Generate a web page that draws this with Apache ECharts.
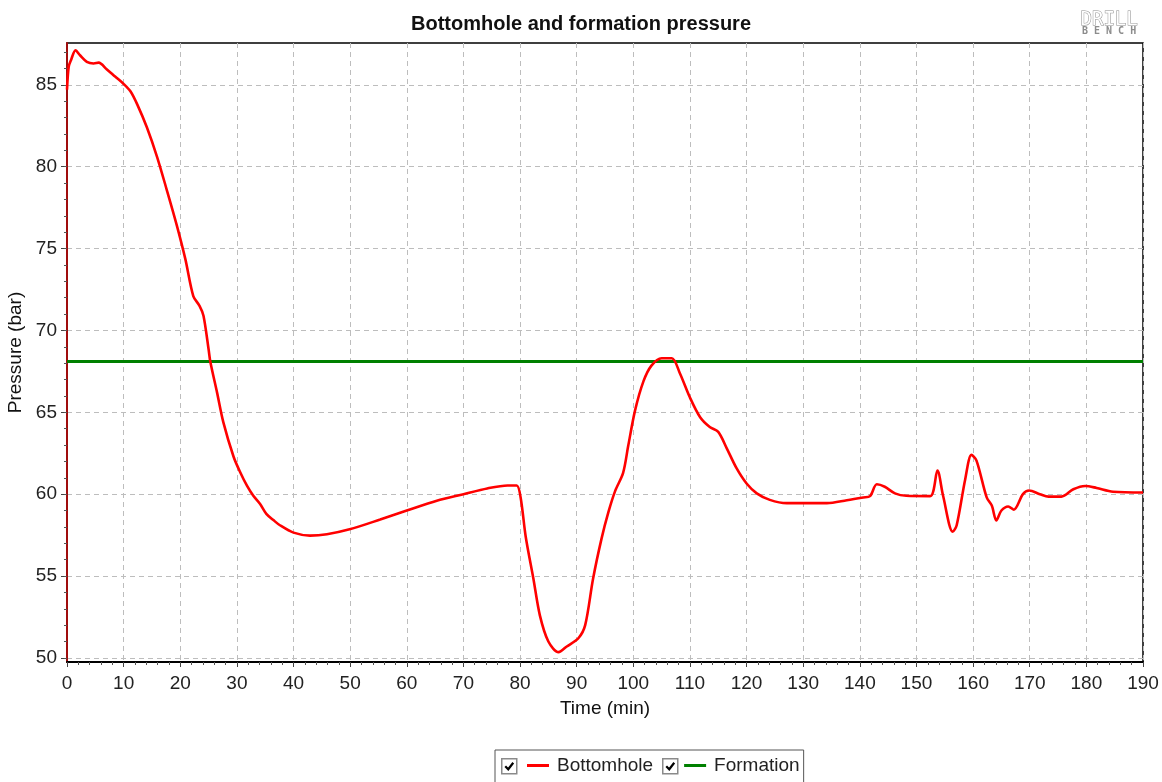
<!DOCTYPE html>
<html>
<head>
<meta charset="utf-8">
<script src="https://cdn.jsdelivr.net/npm/echarts@6/dist/echarts.min.js"></script>
<style>
html,body{margin:0;padding:0;background:#fff;}
#chart{width:1162px;height:782px;}
</style>
</head>
<body>
<div id="chart"></div>
<script>
// ---- data ----
const timeMin = [0,0.3,0.7,1.5,2.3,3.5,4.7,5.6,7.0,8.5,10,11.2,12.4,14.1,15.9,17.6,19.4,20.9,22.3,23.4,24.1,25.0,25.3,26.5,27.6,29.4,30.5,31.8,32.9,34.1,35.2,36.5,37.6,40,42.9,45.9,49.9,55.3,60,65.3,70,74.2,77.8,79.4,80.1,81,82.35,83.5,85,86.8,88.25,90.3,91.5,92.9,94.4,95.6,96.8,98.2,99.1,100.3,101.8,103.2,105,106.8,108.2,110,111.8,113.5,115,116.5,118.2,120,121.8,124.1,127.1,134.2,137.7,140.6,141.8,143.0,144.4,146.2,148.2,152.4,153.7,154.7,156.4,157.1,158.6,159.7,160.6,162.4,163.3,164.1,165,166.2,167.2,168.8,169.9,171.8,173.3,175.6,177.7,179.8,181.8,184.7,190];
const bottomholeBar = [84.7,86.1,86.5,87.1,86.8,86.4,86.3,86.35,85.95,85.5,85.05,84.6,83.8,82.4,80.6,78.6,76.4,74.35,72.1,71.5,70.9,68.85,68.1,66.2,64.4,62.3,61.4,60.5,59.9,59.4,58.8,58.4,58.1,57.65,57.47,57.55,57.85,58.45,59.0,59.6,60.0,60.35,60.53,60.53,59.8,57.4,54.85,52.6,51.0,50.35,50.7,51.2,52.0,54.85,57.3,58.9,60.2,61.3,62.95,65.1,66.9,67.85,68.3,68.3,67.4,65.9,64.7,64.1,63.8,62.8,61.6,60.65,60.05,59.65,59.45,59.45,59.63,59.8,59.88,60.6,60.45,60.05,59.9,59.88,61.44,59.9,57.7,58.1,60.9,62.4,62.05,59.8,59.3,58.4,59.0,59.25,59.05,60.0,60.22,60.0,59.85,59.85,60.3,60.5,60.38,60.15,60.1];
const formationTime = [0,190];
const formationBar = [68.1,68.1];
const yMajorTicks = [50,55,60,65,70,75,80,85];
const yMinorTicks = [50,51,52,53,54,55,56,57,58,59,60,61,62,63,64,65,66,67,68,69,70,71,72,73,74,75,76,77,78,79,80,81,82,83,84,85,86,87];
const seriesNames = ['Bottomhole','Formation'];
const titleText = 'Bottomhole and formation pressure';

// ---- chart ----
const chart = echarts.init(document.getElementById('chart'), null, {renderer:'canvas'});
const FONT = '"Liberation Sans", Arial, sans-serif';
const pair = (xs, ys) => xs.map((x,i)=>[x, ys[i]]);

function checkbox(x, y){
  return {
    type:'group', left:x, top:y, silent:true,
    children:[
      {type:'rect', shape:{x:0,y:0,width:15,height:15}, style:{fill:'#fff', stroke:'#8a8a8a', lineWidth:1.5}},
      {type:'polyline', shape:{points:[[3.5,7.5],[6.5,10.5],[11.5,4]]}, style:{stroke:'#000', lineWidth:2.2, fill:null}}
    ]
  };
}

const option = {
  backgroundColor:'#fff',
  animation:false,
  title:{
    text:titleText, left:'center', top:9,
    textStyle:{fontFamily:FONT, fontSize:20, fontWeight:'bold', color:'#111'}
  },
  grid:{left:67, right:19, top:43, bottom:120, show:true, borderColor:'#000', borderWidth:1.5, backgroundColor:'#fff',
    containLabel:false, outerBoundsMode:'none'},
  legend:{
    data:seriesNames, left:495, top:750, selectedMode:false,
    icon:'rect', itemWidth:22, itemHeight:3, itemGap:31,
    borderColor:'#555', borderWidth:1, padding:[6,4,20,32],
    textStyle:{fontFamily:FONT, fontSize:19, color:'#222', padding:[0,0,0,3]}
  },
  xAxis:{
    type:'value', min:0, max:190, interval:10,
    name:'Time (min)', nameLocation:'middle', nameGap:37,
    nameTextStyle:{fontFamily:FONT, fontSize:19, color:'#111'},
    axisLine:{show:true, lineStyle:{color:'#000', width:2}},
    axisTick:{show:true, length:5, lineStyle:{color:'#444'}},
    minorTick:{show:true, splitNumber:5, length:3, lineStyle:{color:'#555'}},
    axisLabel:{fontFamily:FONT, fontSize:19, color:'#222', margin:12},
    splitLine:{show:true, lineStyle:{color:'#bdbdbd', type:[5,4], width:1}},
    minorSplitLine:{show:false}
  },
  yAxis:[{
    type:'value', min:49.75, max:87.55, interval:5,
    name:'Pressure (bar)', nameLocation:'middle', nameGap:36,
    nameTextStyle:{fontFamily:FONT, fontSize:19, color:'#111'},
    axisLine:{show:true, lineStyle:{color:'#a00d0d', width:2}},
    axisTick:{show:true, length:6, customValues:yMajorTicks, lineStyle:{color:'#444'}},
    axisLabel:{fontFamily:FONT, fontSize:19, color:'#222', margin:10, customValues:yMajorTicks,
      formatter:(v)=> (Math.abs(v/5-Math.round(v/5))<1e-6 ? String(Math.round(v)) : '')},
    splitLine:{show:true, lineStyle:{color:'#bdbdbd', type:[5,4], width:1}}
  },{
    type:'value', min:49.75, max:87.55, position:'left', offset:0,
    axisLine:{show:false},
    axisTick:{show:true, length:3, customValues:yMinorTicks, lineStyle:{color:'#555'}},
    axisLabel:{show:false},
    splitLine:{show:false}
  }],
  series:[{
    name:seriesNames[0], type:'line', yAxisIndex:0,
    data:pair(timeMin, bottomholeBar),
    showSymbol:false, symbol:'none', smooth:0.3,
    lineStyle:{color:'#ff0000', width:2.6}, itemStyle:{color:'#ff0000'},
    z:3
  },{
    name:seriesNames[1], type:'line', yAxisIndex:0,
    data:pair(formationTime, formationBar),
    showSymbol:false, symbol:'none',
    lineStyle:{color:'#008000', width:3}, itemStyle:{color:'#008000'},
    z:2
  }],
  graphic:[
    checkbox(501, 758),
    checkbox(662, 758),
    {type:'text', left:1080, top:10, silent:true,
      style:{text:'DRILL', fontFamily:'"DejaVu Sans Mono", monospace', fontSize:19, fill:'#fff', stroke:'#8c8c8c', lineWidth:1}},
    {type:'text', left:1082, top:26, silent:true,
      style:{text:'B E N C H', fontFamily:'"DejaVu Sans Mono", monospace', fontSize:10, fontWeight:'bold', fill:'#8c8c8c'}}
  ]
};
chart.setOption(option);
</script>
</body>
</html>
